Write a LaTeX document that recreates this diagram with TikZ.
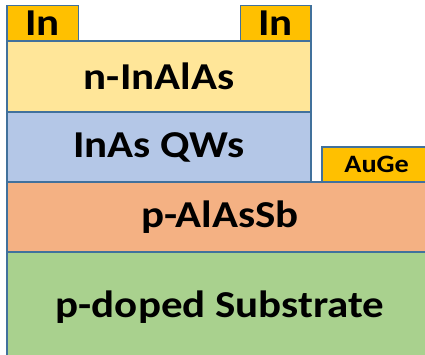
\documentclass[tikz,border=0pt]{standalone}
\usepackage{fontspec}
\setmainfont[FakeStretch=1.13]{Carlito}
\usetikzlibrary{positioning}
\definecolor{EdgeC}{HTML}{41719C}
\definecolor{ContactC}{HTML}{FFC000}
\definecolor{InAlAsC}{HTML}{FFE699}
\definecolor{QwC}{HTML}{B4C7E7}
\definecolor{AlAsSbC}{HTML}{F4B183}
\definecolor{SubC}{HTML}{A9D18E}
\tikzset{
	layer/.style={rectangle, draw=EdgeC, line width=1.6pt, outer sep=0pt, inner sep=0pt, font=\bfseries\fontsize{38}{38}\selectfont},
	contact/.style={layer, fill=ContactC},
}

\begin{document}
\begin{tikzpicture}[x=1pt,y=-1pt]
	\useasboundingbox (0,0) rectangle (425,354);
	\clip (0,0) rectangle (425,354);
	\node (inl) [contact, anchor=north west, minimum width=71.5, minimum height=35.5] at (7,5.5) {In};
	\node (nlay) [layer, fill=InAlAsC, minimum width=304, minimum height=71, below right=0pt and 0pt of inl.south west] {n-InAlAs};
	\node (inr) [contact, minimum width=70.5, minimum height=35.5, above left=0pt and 0pt of nlay.north east] {In};
	\node (qw) [layer, fill=QwC, minimum width=304, minimum height=70, below right=0pt and 0pt of nlay.south west] {InAs QWs};
	\node (alas) [layer, fill=AlAsSbC, minimum width=426, minimum height=70, below right=0pt and 0pt of qw.south west] {p-AlAsSb};
	\node (sub) [layer, fill=SubC, minimum width=426, minimum height=110, below right=0pt and 0pt of alas.south west] {p-doped Substrate};
	\node (auge) [contact, font=\bfseries\fontsize{25}{25}\selectfont, minimum width=110, minimum height=35, above right=0pt and 10.7pt of qw.south east] {AuGe};
\end{tikzpicture}
\end{document}
